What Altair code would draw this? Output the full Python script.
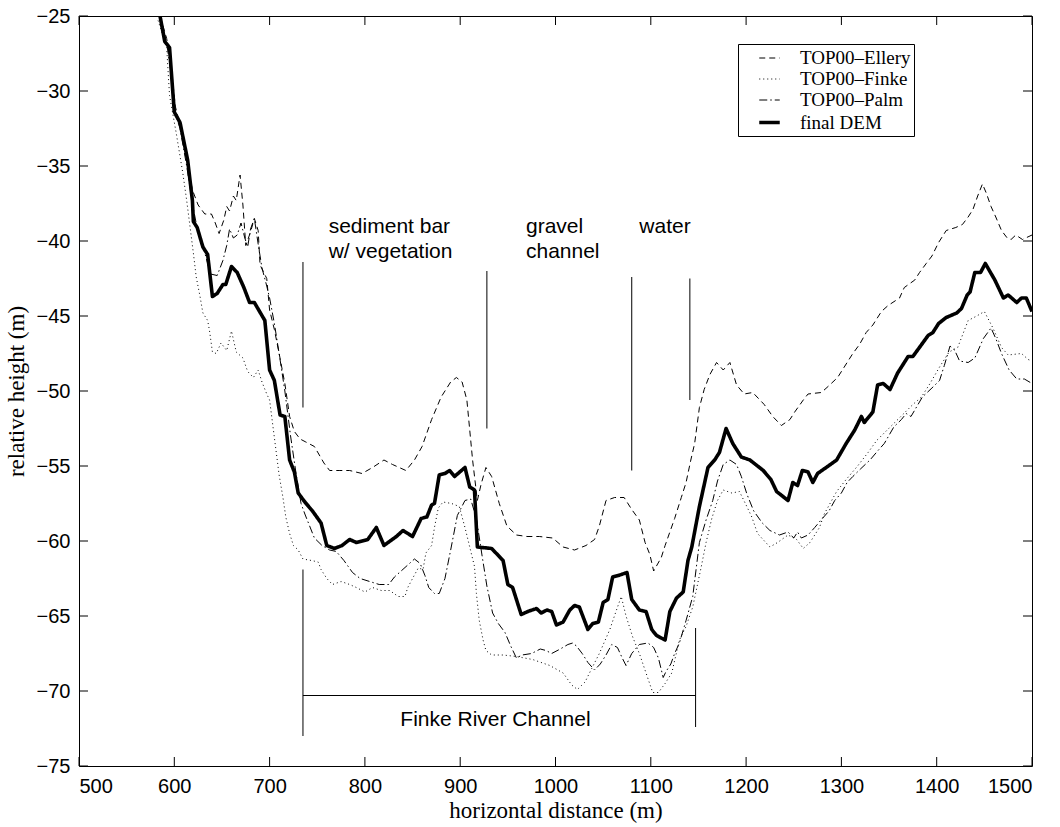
import altair as alt
import pandas as pd

# ---------------- data ----------------
series_names = ["TOP00\u2013Ellery", "TOP00\u2013Finke", "TOP00\u2013Palm", "final DEM"]

ellery_x = [585, 592, 597, 601, 606, 613, 619, 625, 632, 639, 643, 647, 652, 655, 658, 662, 665, 669, 672, 675,
            680, 684, 688, 690, 697, 700, 705, 710, 716, 721, 726, 732, 738, 747, 757, 763, 773, 784, 797, 808,
            820, 829, 843, 852, 860, 870, 880, 890, 896, 902, 907, 913, 918, 922, 927, 933, 941, 949, 959, 970,
            983, 997, 1008, 1020, 1032, 1041, 1046, 1053, 1062, 1072, 1080, 1088, 1094, 1099, 1103, 1111, 1115,
            1120, 1125, 1132, 1137, 1142, 1146, 1151, 1156, 1162, 1169, 1176, 1183, 1190, 1198, 1207, 1219, 1228,
            1237, 1246, 1251, 1260, 1265, 1279, 1286, 1296, 1303, 1312, 1319, 1326, 1333, 1342, 1349, 1361, 1366,
            1377, 1382, 1389, 1395, 1402, 1410, 1420, 1427, 1433, 1438, 1443, 1448, 1452, 1457, 1462, 1468, 1474,
            1478, 1483, 1490, 1500]
ellery_y = [-25, -26.5, -28.5, -31, -32.3, -34.5, -36.6, -37.6, -38.2, -38.2, -38.8, -39.5, -38.6, -37.7, -38, -37,
            -37.3, -35.6, -37.6, -40.3, -39.4, -38.5, -39.3, -41.6, -42.5, -44.6, -45.9, -47.5, -49.5, -51.7, -52.7,
            -53.2, -53.4, -53.7, -54.8, -55.3, -55.3, -55.3, -55.5, -55.1, -54.6, -54.9, -55.3, -54.6, -53.7, -51.9,
            -50.4, -49.4, -49.1, -49.4, -50.6, -54.6, -57.3, -56.2, -55.1, -55.7, -57.5, -59, -59.6, -59.7, -59.7,
            -59.8, -60.4, -60.6, -60.3, -59.9, -59, -57.3, -57.1, -57.1, -57.9, -58.6, -60.1, -60.9, -62, -61.1,
            -60.3, -59.4, -58.5, -57.1, -56.1, -54.6, -53.5, -51.1, -49.9, -48.9, -48.1, -48.6, -48.1, -49.6, -50.2,
            -50.1, -50.9, -51.7, -52.3, -51.9, -51.4, -50.6, -50.2, -50.1, -49.7, -49.1, -48.4, -47.5, -46.9, -46.1,
            -45.6, -44.7, -44.3, -43.8, -43.1, -42.6, -42.1, -41.5, -41, -40.1, -39.3, -39.1, -38.9, -38.4, -37.9,
            -37, -36.2, -36.8, -37.7, -38.4, -39.3, -39.8, -39.9, -39.6, -39.9, -39.6]

finke_x = [583, 592, 595, 602, 609, 613, 616, 620, 623, 627, 630, 635, 637, 640, 644, 649, 655, 660, 665, 672, 677,
           683, 688, 692, 697, 700, 705, 710, 714, 717, 721, 725, 730, 735, 744, 751, 754, 760, 766, 775, 784, 791,
           800, 808, 817, 826, 835, 842, 845, 850, 856, 861, 864, 870, 873, 877, 882, 891, 899, 905, 910, 915, 917,
           920, 924, 927, 933, 945, 959, 976, 994, 1008, 1017, 1023, 1031, 1038, 1046, 1057, 1064, 1069, 1074, 1081,
           1088, 1095, 1102, 1108, 1115, 1122, 1130, 1137, 1144, 1153, 1158, 1164, 1170, 1176, 1185, 1193, 1200,
           1206, 1212, 1225, 1233, 1244, 1253, 1260, 1267, 1277, 1282, 1295, 1305, 1317, 1328, 1337, 1356, 1375,
           1384, 1393, 1403, 1413, 1422, 1433, 1442, 1450, 1459, 1468, 1475, 1489, 1496, 1500]
finke_y = [-25.3, -27.1, -30.3, -32.8, -35.5, -37.3, -38.8, -40.8, -42.4, -43.7, -44.8, -45.3, -46, -47.4, -47.5,
           -46.8, -47.3, -46, -47.4, -47.8, -48.7, -49.1, -48.6, -49.4, -50.2, -50.6, -53.1, -55.6, -57.1, -58.4,
           -59.5, -60.3, -60.6, -61.2, -61.3, -61.4, -61.9, -62.5, -62.9, -62.7, -62.9, -63.1, -63.4, -63.1, -63.3,
           -63.3, -63.7, -63.7, -63.1, -62.5, -61.8, -61.9, -60.8, -60.3, -59.1, -57.8, -57.4, -57.5, -57.7, -59.1,
           -60.4, -61.7, -63.5, -65.3, -66.6, -67.3, -67.6, -67.6, -67.7, -67.9, -68.3, -68.8, -69.6, -69.9, -69.4,
           -68.5, -67.5, -65.9, -64.6, -63.7, -65, -66.4, -67.5, -68.8, -70.1, -70.1, -69.5, -68.8, -66.6, -65.7,
           -64.4, -61.7, -60.1, -58.5, -57.3, -56.6, -56.8, -56.7, -57.6, -58.4, -59.5, -60.4, -60.1, -59.6, -59.9,
           -60.5, -60.1, -59.1, -58.2, -56.7, -55.9, -55, -54.1, -53.3, -52.1, -50.9, -50.4, -49.5, -48.4, -47.4,
           -47.1, -45.3, -45, -44.7, -45.8, -47.1, -47.6, -47.5, -47.9, -48]

palm_x = [585, 592, 597, 601, 606, 613, 619, 625, 632, 638, 645, 651, 655, 658, 662, 666, 670, 674, 677, 680, 684,
          688, 692, 697, 700, 705, 710, 716, 722, 728, 733, 737, 742, 747, 755, 763, 770, 778, 787, 795, 805, 815,
          825, 831, 838, 845, 852, 858, 863, 867, 873, 878, 884, 890, 897, 905, 911, 917, 923, 928, 934, 940, 947,
          953, 959, 965, 975, 984, 990, 996, 1005, 1013, 1018, 1022, 1028, 1034, 1041, 1047, 1053, 1059, 1065,
          1070, 1074, 1080, 1088, 1097, 1103, 1108, 1113, 1116, 1121, 1125, 1130, 1137, 1144, 1151, 1158, 1165,
          1170, 1176, 1183, 1190, 1195, 1201, 1208, 1217, 1225, 1235, 1244, 1250, 1254, 1258, 1265, 1272, 1280,
          1287, 1293, 1300, 1306, 1312, 1320, 1330, 1338, 1345, 1355, 1363, 1368, 1373, 1385, 1395, 1403, 1408,
          1414, 1419, 1424, 1433, 1440, 1449, 1457, 1462, 1468, 1476, 1484, 1492, 1500]
palm_y = [-25, -26.8, -29, -31.5, -32.5, -35, -37.5, -39.5, -40.8, -42.2, -42.3, -41.3, -40.3, -39.2, -39.8, -39.6,
          -38.8, -39.8, -40.4, -39.2, -38.5, -40.2, -41.8, -43, -43.8, -45.5, -47.5, -50, -53, -55.6, -57.5, -58.2,
          -59, -59.8, -60.3, -60.6, -60.7, -61.3, -62.1, -62.5, -62.7, -62.9, -62.9, -62.4, -62, -61.6, -61.2, -61.5,
          -62.3, -63.1, -63.5, -63.5, -62.5, -60.6, -58.3, -57.3, -57.2, -58.5, -61, -63, -64.8, -65.5, -66.1, -67,
          -67.8, -67.6, -67.5, -67.2, -67.3, -67.5, -67.2, -66.9, -66.8, -67, -67.5, -68.1, -68.6, -68.2, -67.6,
          -66.9, -67.1, -67.8, -68.3, -67.5, -66.9, -66.8, -67.1, -67.8, -69.1, -68.7, -68.2, -67.5, -66.8, -65.3,
          -63.7, -60.1, -58.6, -57.3, -56, -54.9, -54.6, -54.9, -55.7, -56.9, -58, -58.8, -59.3, -59.6, -59.4, -59.8,
          -59.4, -59.8, -59.6, -59.1, -58.5, -58, -57.3, -56.8, -56.1, -55.7, -55.2, -54.6, -54, -53.5, -52.4, -51.9,
          -51.5, -51.7, -50.4, -49.8, -49.3, -48.3, -47, -47.3, -48, -48.1, -47.8, -46.5, -45.8, -46.5, -47.5, -48.6,
          -49.2, -49.2, -49.5]

dem_x = [585, 590, 595, 600, 606, 614, 619, 620, 624, 630, 635, 640, 645, 651, 654, 660, 666, 673, 679, 684, 695,
         700, 705, 711, 716, 721, 726, 730, 737, 745, 754, 760, 768, 776, 784, 791, 803, 812, 820, 833, 840, 850,
         859, 865, 870, 873, 878, 884, 889, 894, 905, 910, 915, 918, 933, 945, 950, 955, 964, 971, 980, 985, 991,
         996, 1001, 1008, 1015, 1020, 1025, 1034, 1039, 1045, 1050, 1055, 1060, 1066, 1075, 1080, 1088, 1095,
         1101, 1106, 1115, 1120, 1127, 1134, 1139, 1143, 1151, 1160, 1167, 1172, 1179, 1186, 1195, 1204, 1218,
         1226, 1232, 1244, 1249, 1254, 1259, 1265, 1270, 1275, 1284, 1295, 1305, 1314, 1321, 1324, 1333, 1338,
         1344, 1351, 1359, 1370, 1375, 1391, 1396, 1402, 1410, 1421, 1426, 1432, 1435, 1440, 1446, 1451, 1461,
         1470, 1475, 1484, 1489, 1494, 1500]
dem_y = [-25, -26.7, -27.1, -31.4, -32.1, -34.6, -37.3, -38.7, -39.1, -40.4, -40.9, -43.7, -43.5, -42.9, -42.9,
         -41.7, -42.1, -43.1, -44.1, -44.1, -45.3, -48.6, -49.3, -51.6, -51.7, -54.6, -55.4, -56.8, -57.4, -58,
         -58.8, -60.3, -60.5, -60.3, -59.9, -60.1, -59.9, -59.1, -60.3, -59.7, -59.3, -59.7, -58.5, -58.4, -57.6,
         -57.5, -55.6, -55.5, -55.3, -55.7, -55.1, -56.4, -56.6, -60.4, -60.5, -61.3, -62.9, -63.1, -64.9, -64.7,
         -64.5, -64.8, -64.6, -64.7, -65.6, -65.4, -64.6, -64.3, -64.4, -65.9, -65.5, -65.4, -64.1, -63.9, -62.4,
         -62.3, -62.1, -63.9, -64.6, -64.7, -65.9, -66.3, -66.6, -64.7, -63.8, -63.4, -61.3, -60.4, -57.7, -55.1,
         -54.6, -54.1, -52.5, -53.5, -54.4, -54.6, -55.3, -55.9, -56.7, -57.3, -56.1, -56.3, -55.3, -55.4, -56.1,
         -55.5, -55.1, -54.6, -53.5, -52.6, -51.7, -52.1, -51.4, -49.6, -49.5, -49.9, -48.8, -47.7, -47.7, -46.3,
         -46.1, -45.5, -45.1, -44.8, -44.5, -43.6, -43.4, -42.1, -42.1, -41.5, -42.6, -43.8, -43.6, -44.1, -43.8,
         -43.8, -44.7]

# annotation markers (data units)
vline_x = [735, 928, 1080, 1141, 735, 1147]
vline_y1 = [-41.4, -42.0, -42.4, -42.5, -61.9, -65.8]
vline_y2 = [-51.1, -52.5, -55.3, -50.6, -73.0, -72.4]
hline_x1, hline_x2, hline_y = [735], [1147], [-70.3]

label_text = ["sediment bar", "w/ vegetation", "gravel", "channel", "water"]
label_x = [762, 762, 969, 969, 1088]
label_y = [-39.45, -41.1, -39.45, -41.1, -39.45]
channel_label = ["Finke River Channel"]
channel_label_x = [937]
channel_label_y = [-72.3]

x_ticks = [500, 600, 700, 800, 900, 1000, 1100, 1200, 1300, 1400, 1500]
y_ticks = [-75, -70, -65, -60, -55, -50, -45, -40, -35, -30, -25]

# ---------------- build tables ----------------
rows = []
for name, xs, ys in zip(series_names, [ellery_x, finke_x, palm_x, dem_x], [ellery_y, finke_y, palm_y, dem_y]):
    for i, (a, b) in enumerate(zip(xs, ys)):
        rows.append({"series": name, "x": a, "y": b, "order": i})
lines_df = pd.DataFrame(rows)

vl_df = pd.DataFrame({"x": vline_x, "y1": vline_y1, "y2": vline_y2})
hl_df = pd.DataFrame({"x1": hline_x1, "x2": hline_x2, "y": hline_y})
lab_df = pd.DataFrame({"t": label_text, "x": label_x, "y": label_y})
ch_df = pd.DataFrame({"t": channel_label, "x": channel_label_x, "y": channel_label_y})
xt_df = pd.DataFrame({"v": x_ticks})
yt_df = pd.DataFrame({"v": y_ticks})

W, H = 953, 750
TICK = 9
SANS = "Liberation Sans"
SERIF = "Liberation Serif"

xscale = alt.Scale(domain=[500, 1500], nice=False, zero=False)
yscale = alt.Scale(domain=[-75, -25], nice=False, zero=False)

legend = alt.Legend(
    title=None, orient="none", legendX=659, legendY=28,
    strokeColor="black", fillColor="white", padding=3,
    labelFont=SERIF, labelFontSize=19, labelColor="black",
    labelExpr="datum.label + '\u00a0\u00a0'",
    symbolType="stroke", symbolSize=420, symbolStrokeColor="black",
    symbolOffset=16, rowPadding=0, labelOffset=18,
)

xaxis = alt.Axis(values=x_ticks, format="d", ticks=False, domain=False, grid=False, labelFont=SANS,
                 labelFontSize=20, labelColor="black", labelPadding=10, title="horizontal distance (m)",
                 titleFont=SERIF, titleFontSize=23, titleFontWeight="normal", titleColor="black", titlePadding=3)
yaxis = alt.Axis(values=y_ticks, ticks=False, domain=False, grid=False, labelFont=SANS, labelFontSize=20,
                 labelColor="black", labelPadding=9, title="relative height (m)", titleFont=SERIF,
                 titleFontSize=23, titleFontWeight="normal", titleColor="black", titlePadding=8)

lines = alt.Chart(lines_df).mark_line(color="black", clip=True, strokeCap="butt", strokeJoin="round").encode(
    x=alt.X("x:Q", scale=xscale, axis=xaxis),
    y=alt.Y("y:Q", scale=yscale, axis=yaxis),
    order="order:Q",
    strokeDash=alt.StrokeDash("series:N", sort=series_names,
                              scale=alt.Scale(type="ordinal", domain=series_names,
                                              range=[[6, 4], [1, 3], [8, 3, 1.5, 3], [1, 0]]),
                              legend=legend),
    strokeWidth=alt.StrokeWidth("series:N", sort=series_names,
                                scale=alt.Scale(type="ordinal", domain=series_names, range=[1, 1, 1, 3.6]),
                                legend=legend),
)

vlines = alt.Chart(vl_df).mark_rule(color="black", strokeWidth=1).encode(
    x=alt.X("x:Q", scale=xscale), y=alt.Y("y1:Q", scale=yscale), y2="y2:Q")
hlines = alt.Chart(hl_df).mark_rule(color="black", strokeWidth=1).encode(
    x=alt.X("x1:Q", scale=xscale), x2="x2:Q", y=alt.Y("y:Q", scale=yscale))
labels = alt.Chart(lab_df).mark_text(align="left", baseline="alphabetic", font=SANS, fontSize=21,
                                     color="black").encode(
    x=alt.X("x:Q", scale=xscale), y=alt.Y("y:Q", scale=yscale), text="t:N")
chlabel = alt.Chart(ch_df).mark_text(align="center", baseline="alphabetic", font=SANS, fontSize=21,
                                     color="black").encode(
    x=alt.X("x:Q", scale=xscale), y=alt.Y("y:Q", scale=yscale), text="t:N")

# inward ticks on all four sides
xt_bot = alt.Chart(xt_df).mark_rule(color="black", strokeWidth=1).encode(
    x=alt.X("v:Q", scale=xscale), y=alt.value(H - TICK), y2=alt.value(H))
xt_top = alt.Chart(xt_df).mark_rule(color="black", strokeWidth=1).encode(
    x=alt.X("v:Q", scale=xscale), y=alt.value(0), y2=alt.value(TICK))
yt_left = alt.Chart(yt_df).mark_rule(color="black", strokeWidth=1).encode(
    y=alt.Y("v:Q", scale=yscale), x=alt.value(0), x2=alt.value(TICK))
yt_right = alt.Chart(yt_df).mark_rule(color="black", strokeWidth=1).encode(
    y=alt.Y("v:Q", scale=yscale), x=alt.value(W - TICK), x2=alt.value(W))

chart = alt.layer(
    xt_bot, xt_top, yt_left, yt_right, vlines, hlines, labels, chlabel, lines
).properties(
    width=W, height=H,
    autosize=alt.AutoSizeParams(type="none"),
    padding={"left": 79, "top": 16, "right": 28, "bottom": 61},
    background="white",
).configure_view(
    stroke="black", strokeWidth=1
)

chart.save("out.html", embed_options={"renderer": "svg", "actions": False})
